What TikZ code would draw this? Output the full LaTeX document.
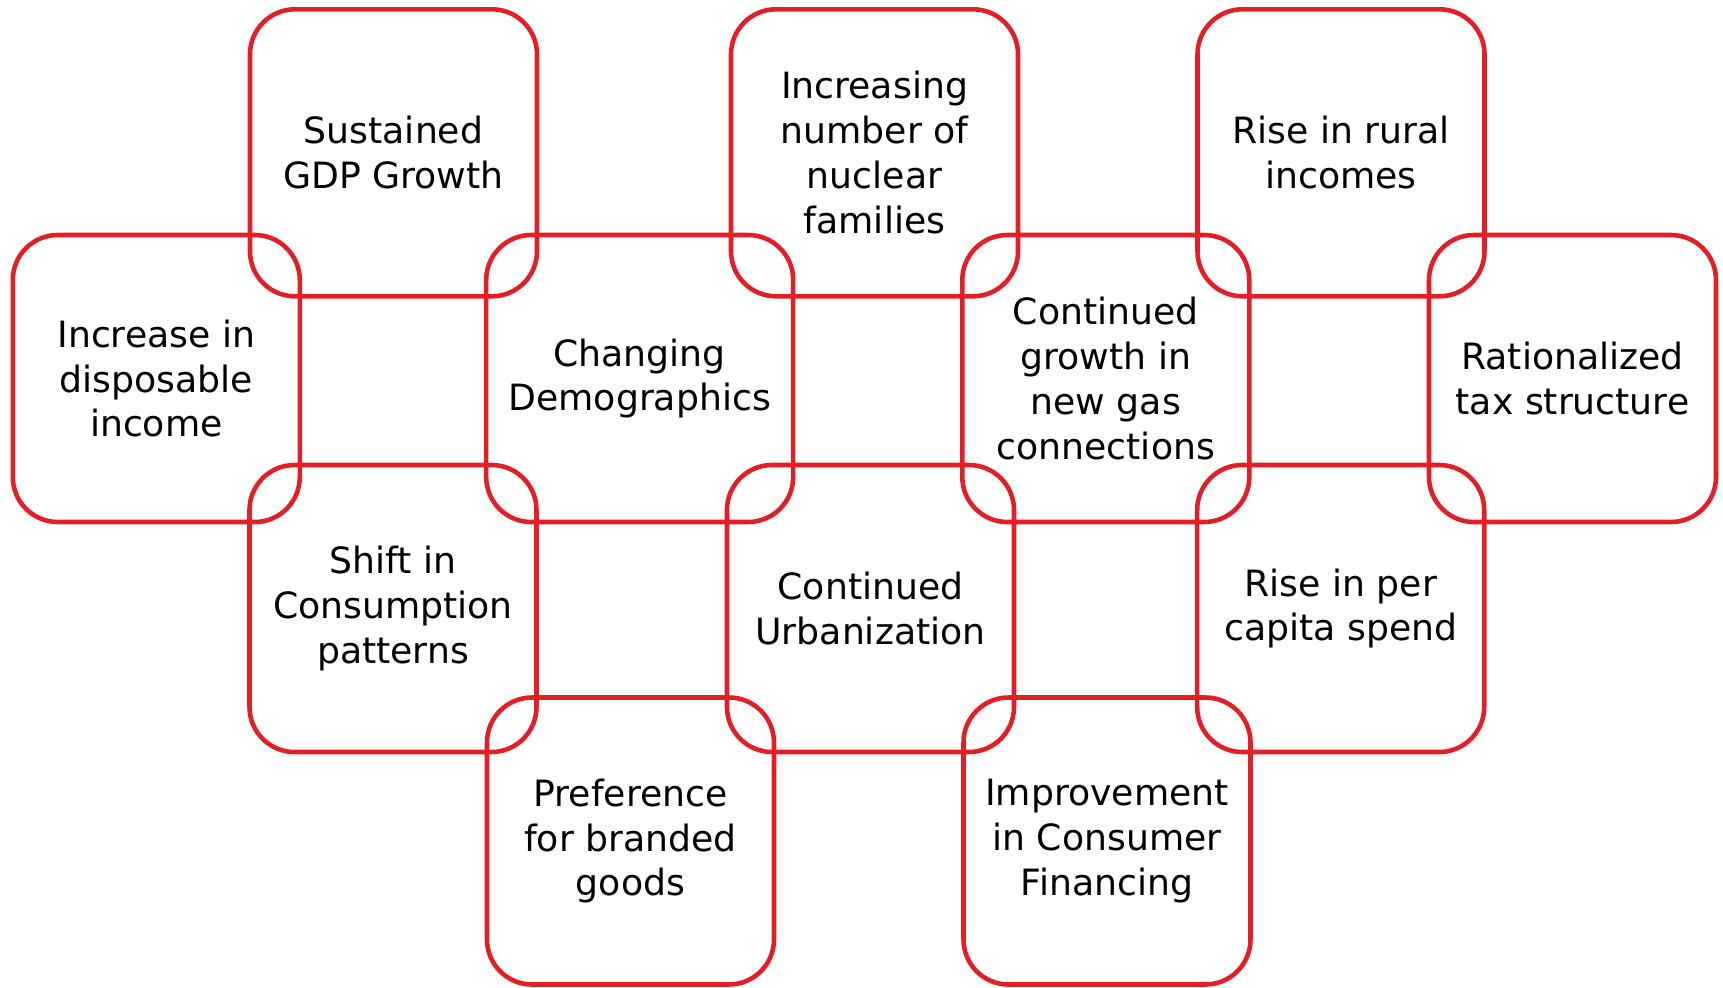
\documentclass[tikz,border=0pt]{standalone}
\usepackage{fontspec}
\setmainfont{DejaVu Sans}
\definecolor{boxred}{RGB}{227,30,36}
\begin{document}
\begin{tikzpicture}[factor/.style={draw=boxred, line width=1.3pt, rounded corners=0.45cm, minimum width=2.87cm, minimum height=2.87cm, align=center, font=\fontsize{10.3}{12.8}\selectfont}]
	\useasboundingbox (0, 0) rectangle (17.23, -9.87);
	\node[factor] (gdp) at (3.935, -1.528) {Sustained\\GDP Growth};
	\node[factor] (nuclear) at (8.745, -1.528) {Increasing\\number of\\nuclear\\families};
	\node[factor] (rural) at (13.41, -1.528) {Rise in rural\\incomes};
	\node[factor] (income) at (1.563, -3.785) {Increase in\\disposable\\income};
	\node[factor, minimum width=3.07cm] (demo) at (6.397, -3.785) {Changing\\Demographics};
	\node[factor] (gas) at (11.058, -3.785) {Continued\\growth in\\new gas\\connections};
	\node[factor] (tax) at (15.725, -3.785) {Rationalized\\tax structure};
	\node[factor] (shift) at (3.93, -6.085) {Shift in\\Consumption\\patterns};
	\node[factor] (urban) at (8.705, -6.085) {Continued\\Urbanization};
	\node[factor] (percap) at (13.407, -6.085) {Rise in per\\capita spend};
	\node[factor] (brand) at (6.305, -8.41) {Preference\\for branded\\goods};
	\node[factor] (finance) at (11.07, -8.41) {Improvement\\in Consumer\\Financing};
\end{tikzpicture}
\end{document}
